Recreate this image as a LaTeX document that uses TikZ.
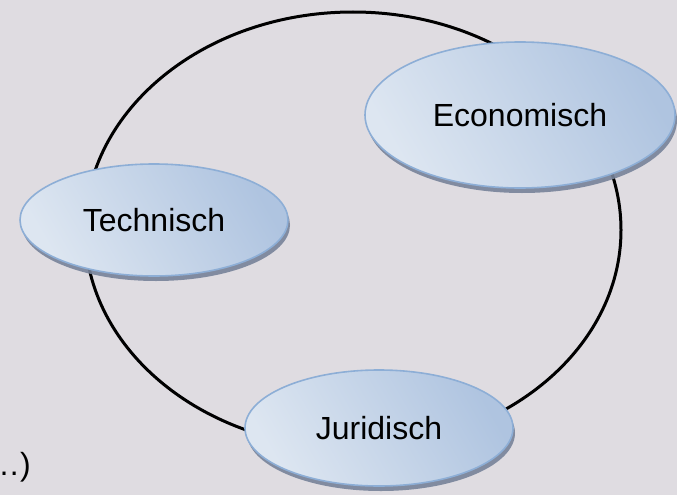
\documentclass[tikz,border=0pt]{standalone}
\usepackage{fontspec}
\setmainfont{Liberation Sans}
\usetikzlibrary{shapes.geometric,shadows}
\definecolor{bgc}{HTML}{DFDCE1}
\definecolor{elllight}{HTML}{DDE6F1}
\definecolor{elldark}{HTML}{AFC4E0}
\definecolor{ellborder}{HTML}{8DAED6}
\definecolor{shadowc}{HTML}{77839A}
\tikzset{
  x=1pt, y=-1pt,
  topic/.style={ellipse, draw=ellborder, line width=1.6pt, inner sep=0pt,
    left color=elldark, right color=elllight, shading angle=-60,
    drop shadow={shadow xshift=2pt, shadow yshift=-5pt, fill=shadowc, opacity=0.9},
    font=\fontsize{32}{38}\selectfont, text=black},
  ring/.style={line width=3pt, draw=black}
}
\begin{document}
\begin{tikzpicture}
\useasboundingbox (0,0) rectangle (677,495);
\fill[bgc] (0,0) rectangle (677,495);
\coordinate (ringc) at (353,230);
\draw[ring] (ringc) ellipse [x radius=268pt, y radius=218pt];
\node[topic, minimum width=310pt, minimum height=146pt] (eco) at (520,115) {Economisch};
\node[topic, minimum width=268pt, minimum height=112pt] (tech) at (154,220) {Technisch};
\node[topic, minimum width=268pt, minimum height=116pt] (jur) at (379,428) {Juridisch};
\node[anchor=base east, inner sep=0pt, font=\fontsize{32}{38}\selectfont] (etc) at (31,475) {…)};
\end{tikzpicture}
\end{document}
